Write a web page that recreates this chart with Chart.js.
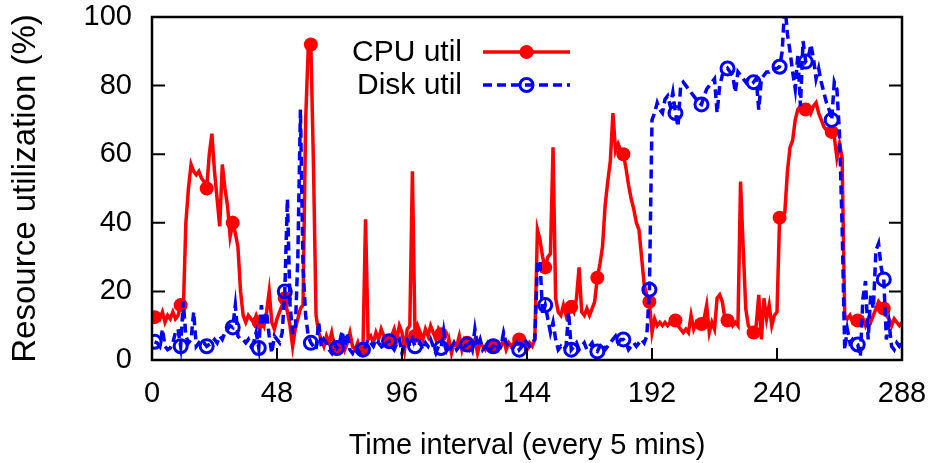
<!DOCTYPE html>
<html>
<head>
<meta charset="utf-8">
<script src="https://cdn.jsdelivr.net/npm/chart.js@4.4.0/dist/chart.umd.min.js"></script>
<style>
  html, body { margin: 0; padding: 0; background: #fff; }
  #wrap { width: 935px; height: 463px; }
</style>
</head>
<body>
<div id="wrap"><canvas id="utilChart" width="935" height="463"></canvas></div>
<script>
// --- DATA (one sample every 5 mins, x = 1..288) ---
const xTicks = [0, 48, 96, 144, 192, 240, 288];
const yTicks = [0, 20, 40, 60, 80, 100];
const seriesNames = ['CPU util', 'Disk util'];
const xTitle = 'Time interval (every 5 mins)';
const yTitle = 'Resource utilization (%)';

const cpuUtil = [
  12.5, 13, 12, 14, 11, 13, 12, 14, 12, 13,
  16, 14, 40, 50, 57, 55, 54, 55, 53, 52,
  50, 60, 66, 55, 47, 39, 57, 50, 45, 36,
  40, 37, 33, 20, 13, 11, 13, 12, 11, 13,
  11, 12, 10, 14, 20, 11, 9, 12, 14, 16,
  18, 14, 10, 4, 9, 12, 15, 16, 70, 91,
  92, 57, 13, 8, 6, 4, 7, 5, 8, 4,
  3.5, 4, 6, 3, 5, 8, 4, 3, 5, 2,
  3, 41, 6, 7, 5, 8, 6, 9, 7, 6,
  5.5, 7, 9, 6, 10, 8, 3, 9, 10, 55,
  7, 10, 8, 6, 9, 7, 10, 8, 6, 9,
  7.5, 5, 3, 6, 2, 5, 4, 7, 3, 6,
  5, 3, 4, 6, 2, 5, 4, 3, 5, 4,
  4, 3, 5, 4, 6, 3, 5, 4, 5, 6,
  6, 4, 5, 3, 5, 4, 6, 38, 35, 30,
  27, 30, 31, 62, 18, 14, 13, 16, 13, 15,
  15.5, 14, 18, 27, 14, 13, 15, 13, 15, 17,
  24, 28, 33, 45, 52, 58, 72, 61, 63, 61,
  60, 56, 51, 47, 44, 40, 38, 30, 22, 19,
  17, 8, 12, 10, 11, 10, 11, 10, 11, 12,
  11.5, 10, 9, 8, 9, 8, 13, 9, 11, 10,
  10.5, 12, 16, 8, 11, 9, 18, 19, 17, 12,
  11.5, 12, 10, 11, 10, 52, 33, 15, 10, 9,
  8, 10, 19, 6, 18, 12, 16, 10, 13, 14,
  41.5, 42, 43, 55, 62, 64, 70, 73, 74, 73,
  73, 74, 72, 74, 75, 72, 70, 68, 67, 66,
  66.5, 65, 59, 63, 59, 13, 12, 13, 11, 12,
  11.5, 11, 12, 10, 12, 11, 13, 15, 17, 16,
  15, 13, 12, 10, 12, 11, 10, 11
];

const diskUtil = [
  5.3, 5, 4, 9, 4, 3, 3.5, 5, 8, 9,
  4, 17, 7, 5, 6, 14, 4, 5, 4, 5,
  4, 4.5, 5, 6, 5, 7, 6, 8, 9, 10,
  9.5, 16, 7, 6, 6, 5, 6, 4, 5, 8,
  3.5, 16, 10, 14, 7, 2, 7, 6, 5, 8,
  20, 47, 16, 8, 8, 30, 73, 27, 13, 7,
  5, 4, 3, 11, 4, 6, 5, 3, 2, 5,
  3.5, 5, 8.5, 4, 8, 3, 2, 4, 3, 2,
  3, 4, 6, 5, 4, 6, 5, 4, 3, 5,
  5.5, 4, 3, 5, 6, 2, 5, 6, 4, 6,
  4, 4, 5, 3, 5, 4, 6, 4, 2, 4,
  3.5, 8.5, 3, 2, 4, 5, 3, 4, 5, 4,
  4.5, 5, 3, 9, 4, 6, 3, 4, 5, 3,
  4, 5, 3, 4, 8, 5, 4, 3, 4, 5,
  3, 4, 6, 5, 4, 5, 6, 28, 29, 13,
  16, 12, 8, 11, 6, 3, 4, 3, 4, 14,
  3, 4, 5, 3, 4, 5, 3, 4, 5, 3,
  2.5, 4, 5, 3, 4, 5, 6, 7, 5, 6,
  6, 5, 3, 4, 5, 4, 5, 6, 5, 7,
  20.5, 70, 72, 75, 73, 72, 76, 77, 74, 78,
  72, 68, 80, 81, 80, 79, 78, 77, 76, 75,
  74.5, 77, 79, 80, 81, 82, 72, 80, 83, 84,
  85, 84, 83, 78, 84, 83, 82, 81, 82, 82,
  81, 82, 73, 82, 83, 84, 84, 85, 85, 85,
  85.5, 90, 104, 95, 90, 84, 79, 89, 74, 93,
  87, 88, 92, 88, 82, 85, 81, 78, 75, 73,
  70, 81, 79, 66, 39, 3, 9, 5, 6, 5,
  4.5, 1, 18, 23, 6, 19, 15, 32, 34, 27,
  23.5, 6, 11, 4, 3, 5, 4, 5
];

// --- STYLE ---
const FONT = "'Liberation Sans', Arial, Helvetica, sans-serif";
const MARK_EVERY = 10;
const toPoints = arr => arr.map((v, i) => ({ x: i + 1, y: v }));
const markRadius = r => c => (c.dataIndex % MARK_EVERY === 0 ? r : 0);

// box around the plot with inward ticks (gnuplot look)
const framePlugin = {
  id: 'frame',
  afterDatasetsDraw(chart) {
    const { ctx, chartArea: a, scales: { x, y } } = chart;
    ctx.save();
    ctx.strokeStyle = '#000';
    ctx.lineWidth = 2;
    ctx.beginPath();
    yTicks.forEach(v => {
      const py = y.getPixelForValue(v);
      ctx.moveTo(a.left, py); ctx.lineTo(a.left + 13, py);
      ctx.moveTo(a.right, py); ctx.lineTo(a.right - 13, py);
    });
    xTicks.forEach(v => {
      const px = x.getPixelForValue(v);
      ctx.moveTo(px, a.bottom); ctx.lineTo(px, a.bottom - 12);
    });
    ctx.stroke();
    ctx.lineWidth = 2.5;
    ctx.strokeRect(a.left, a.top, a.right - a.left, a.bottom - a.top);
    ctx.restore();
  }
};

// key in the top middle: text right aligned, then line sample with marker
const keyPlugin = {
  id: 'key',
  afterDraw(chart) {
    const { ctx, chartArea: a } = chart;
    const textRight = a.left + 310, lineL = a.left + 331, lineR = a.left + 418;
    ctx.save();
    ctx.font = `30px ${FONT}`;
    ctx.fillStyle = '#000';
    ctx.textAlign = 'right';
    ctx.textBaseline = 'middle';
    chart.data.datasets.forEach((ds, i) => {
      const yy = a.top + 35 + i * 33;
      ctx.fillText(ds.label, textRight, yy + 1);
      ctx.strokeStyle = ds.borderColor;
      ctx.lineWidth = ds.borderWidth;
      ctx.setLineDash(ds.borderDash || []);
      ctx.beginPath();
      ctx.moveTo(lineL, yy); ctx.lineTo(lineR, yy);
      ctx.stroke();
      ctx.setLineDash([]);
      const cx = (lineL + lineR) / 2;
      ctx.beginPath();
      ctx.arc(cx, yy, ds.keyRadius, 0, Math.PI * 2);
      if (ds.keyFilled) { ctx.fillStyle = ds.borderColor; ctx.fill(); ctx.fillStyle = '#000'; }
      else { ctx.lineWidth = ds.pointBorderWidth; ctx.stroke(); }
    });
    ctx.restore();
  }
};

new Chart(document.getElementById('utilChart'), {
  type: 'line',
  data: {
    datasets: [
      {
        label: seriesNames[0],
        data: toPoints(cpuUtil),
        borderColor: '#ff0000',
        backgroundColor: '#ff0000',
        borderWidth: 3.5,
        tension: 0,
        pointRadius: markRadius(7),
        pointBorderWidth: 0,
        pointBackgroundColor: '#ff0000',
        keyRadius: 7, keyFilled: true,
        order: 1
      },
      {
        label: seriesNames[1],
        data: toPoints(diskUtil),
        borderColor: '#0000ff',
        borderWidth: 3.5,
        borderDash: [9, 5],
        tension: 0,
        pointRadius: markRadius(6.5),
        pointBorderWidth: 3,
        pointBorderColor: '#0000ff',
        pointBackgroundColor: 'rgba(0,0,0,0)',
        keyRadius: 6.5, keyFilled: false,
        order: 0
      }
    ]
  },
  options: {
    responsive: false,
    devicePixelRatio: 1,
    animation: false,
    layout: { autoPadding: false, padding: { left: 0, right: 33, top: 17, bottom: 0 } },
    plugins: { legend: { display: false }, tooltip: { enabled: false } },
    scales: {
      x: {
        type: 'linear', min: 0, max: 288,
        afterBuildTicks: s => { s.ticks = xTicks.map(v => ({ value: v })); },
        afterFit: s => { s.height = 103; s.paddingLeft = 0; s.paddingRight = 0; },
        grid: { display: false, drawTicks: false },
        border: { display: false },
        ticks: { autoSkip: false, maxRotation: 0, padding: 17, color: '#000', font: { family: FONT, size: 29 } },
        title: { display: true, text: xTitle, color: '#000', padding: 0, font: { family: FONT, size: 29 } }
      },
      y: {
        min: 0, max: 100,
        afterBuildTicks: s => { s.ticks = yTicks.map(v => ({ value: v })); },
        afterFit: s => { s.width = 152; s.paddingTop = 0; s.paddingBottom = 0; },
        grid: { display: false, drawTicks: false },
        border: { display: false },
        ticks: { padding: 20, color: '#000', font: { family: FONT, size: 29 } },
        title: { display: true, text: yTitle, color: '#000', padding: { top: 6, bottom: 0 }, font: { family: FONT, size: 33 } }
      }
    }
  },
  plugins: [framePlugin, keyPlugin]
});
</script>
</body>
</html>
